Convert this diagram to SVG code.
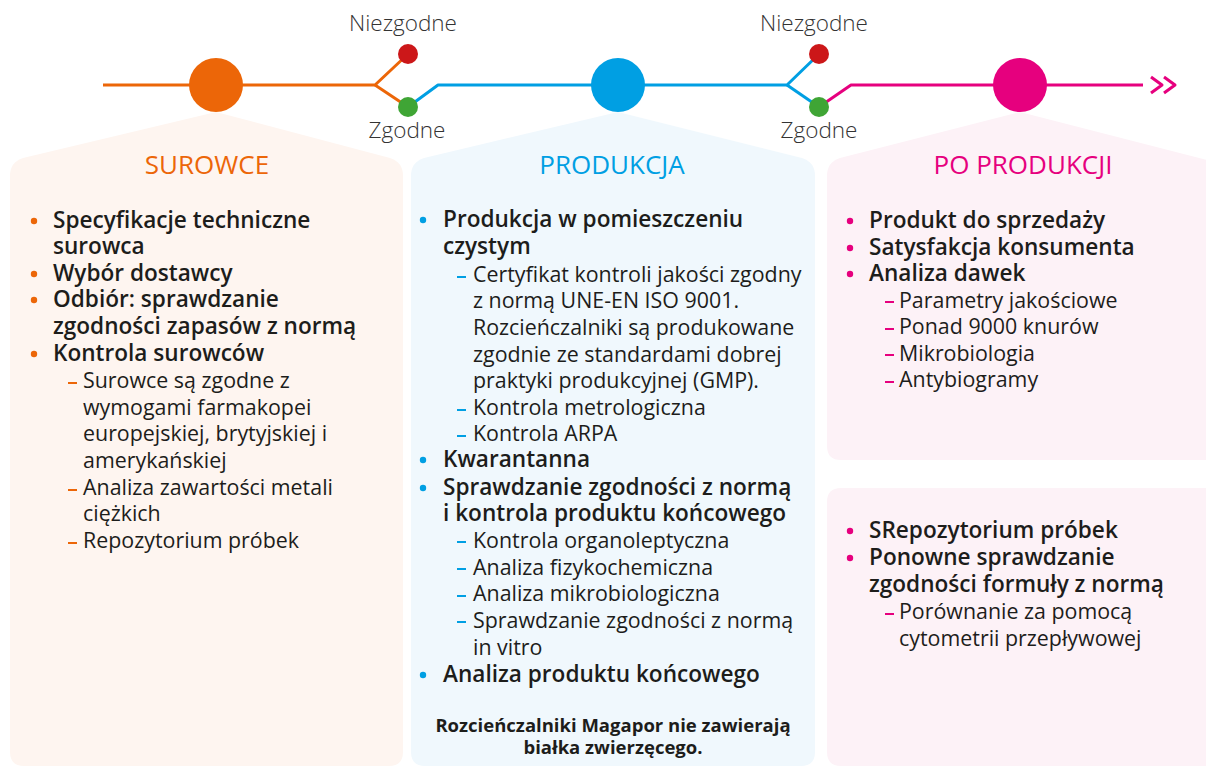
<svg xmlns="http://www.w3.org/2000/svg" width="1206" height="768" viewBox="0 0 1206 768">
<style>
text{font-family:"Open Sans","Liberation Sans",sans-serif;fill:#1d1d1b}
.lbl{font-size:22.5px;font-weight:300;fill:#333;text-anchor:middle}
.h{font-size:26px;font-weight:400;text-anchor:middle}
.b{font-size:22.6px;font-weight:600}
.s{font-size:21.4px;font-weight:400}
.n{font-size:18.5px;font-weight:700;text-anchor:middle}
.ln{fill:none;stroke-width:3;stroke-linejoin:round}
.o{stroke:#ec6608}.bl{stroke:#009fe3}.p{stroke:#e6007e}
</style>
<g id="panels">
<g id="panel-surowce">
<path d="M216,112 L390,158 Q403,162 403,176 L403,752 Q403,766 389,766 L24,766 Q10,766 10,752 L10,176 Q10,162 23,158 Z" fill="#fef5f0"/>
<text class="h" x="207" y="174" style="fill:#ec6608">SUROWCE</text>
<g fill="#ec6608"><circle cx="34" cy="221" r="3.2"/><circle cx="34" cy="274" r="3.2"/><circle cx="34" cy="300" r="3.2"/><circle cx="34" cy="354" r="3.2"/>
<rect x="68" y="382" width="9" height="2"/><rect x="68" y="489" width="9" height="2"/><rect x="68" y="542" width="9" height="2"/></g>
<text class="b" x="53" y="228">Specyfikacje techniczne</text>
<text class="b" x="53" y="254">surowca</text>
<text class="b" x="53" y="281">Wybór dostawcy</text>
<text class="b" x="53" y="307">Odbiór: sprawdzanie</text>
<text class="b" x="53" y="334">zgodności zapasów z normą</text>
<text class="b" x="53" y="361">Kontrola surowców</text>
<text class="s" x="83" y="388">Surowce są zgodne z</text>
<text class="s" x="83" y="415">wymogami farmakopei</text>
<text class="s" x="83" y="441">europejskiej, brytyjskiej i</text>
<text class="s" x="83" y="468">amerykańskiej</text>
<text class="s" x="83" y="495">Analiza zawartości metali</text>
<text class="s" x="83" y="521">ciężkich</text>
<text class="s" x="83" y="548">Repozytorium próbek</text>
</g>
<g id="panel-produkcja">
<path d="M618,112 L802,158 Q815,162 815,176 L815,752 Q815,766 801,766 L425,766 Q411,766 411,752 L411,176 Q411,162 424,158 Z" fill="#f0f8fd"/>
<text class="h" x="612" y="174" style="fill:#009fe3">PRODUKCJA</text>
<g fill="#009fe3"><circle cx="423" cy="220" r="3.2"/><circle cx="423" cy="460" r="3.2"/><circle cx="423" cy="488" r="3.2"/><circle cx="423" cy="675" r="3.2"/>
<rect x="457" y="276" width="9" height="2"/><rect x="457" y="409" width="9" height="2"/><rect x="457" y="435" width="9" height="2"/><rect x="457" y="541" width="9" height="2"/><rect x="457" y="568" width="9" height="2"/><rect x="457" y="595" width="9" height="2"/><rect x="457" y="621" width="9" height="2"/></g>
<text class="b" x="443" y="227">Produkcja w pomieszczeniu</text>
<text class="b" x="443" y="254">czystym</text>
<text class="s" x="473" y="282">Certyfikat kontroli jakości zgodny</text>
<text class="s" x="473" y="308">z normą UNE-EN ISO 9001.</text>
<text class="s" x="473" y="335">Rozcieńczalniki są produkowane</text>
<text class="s" x="473" y="362">zgodnie ze standardami dobrej</text>
<text class="s" x="473" y="388">praktyki produkcyjnej (GMP).</text>
<text class="s" x="473" y="415">Kontrola metrologiczna</text>
<text class="s" x="473" y="441">Kontrola ARPA</text>
<text class="b" x="443" y="467">Kwarantanna</text>
<text class="b" x="443" y="495">Sprawdzanie zgodności z normą</text>
<text class="b" x="443" y="521">i kontrola produktu końcowego</text>
<text class="s" x="473" y="548">Kontrola organoleptyczna</text>
<text class="s" x="473" y="575">Analiza fizykochemiczna</text>
<text class="s" x="473" y="601">Analiza mikrobiologiczna</text>
<text class="s" x="473" y="628">Sprawdzanie zgodności z normą</text>
<text class="s" x="473" y="655">in vitro</text>
<text class="b" x="443" y="682">Analiza produktu końcowego</text>
<text class="n" x="613" y="732">Rozcieńczalniki Magapor nie zawierają</text>
<text class="n" x="613" y="754">białka zwierzęcego.</text>
</g>
<g id="panel-po-produkcji">
<path d="M1020,112 L1230,166 L1230,460 L841,460 Q827,460 827,446 L827,176 Q827,162 840,158 Z" fill="#fdf2f7"/>
<text class="h" x="1023" y="174" style="fill:#e6007e">PO PRODUKCJI</text>
<g fill="#e6007e"><circle cx="850" cy="221" r="3.2"/><circle cx="850" cy="248" r="3.2"/><circle cx="850" cy="274" r="3.2"/>
<rect x="885" y="301" width="9" height="2"/><rect x="885" y="328" width="9" height="2"/><rect x="885" y="354" width="9" height="2"/><rect x="885" y="381" width="9" height="2"/></g>
<text class="b" x="869" y="228">Produkt do sprzedaży</text>
<text class="b" x="869" y="255">Satysfakcja konsumenta</text>
<text class="b" x="869" y="281">Analiza dawek</text>
<text class="s" x="899" y="308">Parametry jakościowe</text>
<text class="s" x="899" y="334">Ponad 9000 knurów</text>
<text class="s" x="899" y="361">Mikrobiologia</text>
<text class="s" x="899" y="387">Antybiogramy</text>
</g>
<g id="panel-po-produkcji-2">
<path d="M841,488 L1230,488 L1230,766 L841,766 Q827,766 827,752 L827,502 Q827,488 841,488 Z" fill="#fdf2f7"/>
<g fill="#e6007e"><circle cx="850" cy="531" r="3.2"/><circle cx="850" cy="558" r="3.2"/><rect x="885" y="613" width="9" height="2"/></g>
<text class="b" x="869" y="538">SRepozytorium próbek</text>
<text class="b" x="869" y="565">Ponowne sprawdzanie</text>
<text class="b" x="869" y="592">zgodności formuły z normą</text>
<text class="s" x="899" y="619">Porównanie za pomocą</text>
<text class="s" x="899" y="646">cytometrii przepływowej</text>
</g>
</g>
<g id="connectors">
<polyline class="ln o" points="103,85 375,85 408,54"/>
<polyline class="ln o" points="375,85 408,107"/>
<polyline class="ln bl" points="408,107 438,85 787,85 819,54"/>
<polyline class="ln bl" points="787,85 819,107"/>
<polyline class="ln p" points="819,107 851,85 1143,85"/>
<polyline class="ln p" points="1151,77 1162,85 1151,93"/>
<polyline class="ln p" points="1164,77 1175,85 1164,93"/>
</g>
<g id="node-surowce"><circle cx="216" cy="85" r="27" fill="#ec6608"/></g>
<g id="node-produkcja"><circle cx="618" cy="85" r="27" fill="#009fe3"/></g>
<g id="node-po-produkcji"><circle cx="1020" cy="85" r="27" fill="#e6007e"/></g>
<g id="node-niezgodne-1"><circle cx="408" cy="54" r="10" fill="#cc1719"/><text class="lbl" x="403" y="31">Niezgodne</text></g>
<g id="node-zgodne-1"><circle cx="408" cy="107" r="10" fill="#3fa535"/><text class="lbl" x="407" y="138">Zgodne</text></g>
<g id="node-niezgodne-2"><circle cx="819" cy="54" r="10" fill="#cc1719"/><text class="lbl" x="814" y="31">Niezgodne</text></g>
<g id="node-zgodne-2"><circle cx="819" cy="107" r="10" fill="#3fa535"/><text class="lbl" x="819" y="138">Zgodne</text></g>
</svg>
